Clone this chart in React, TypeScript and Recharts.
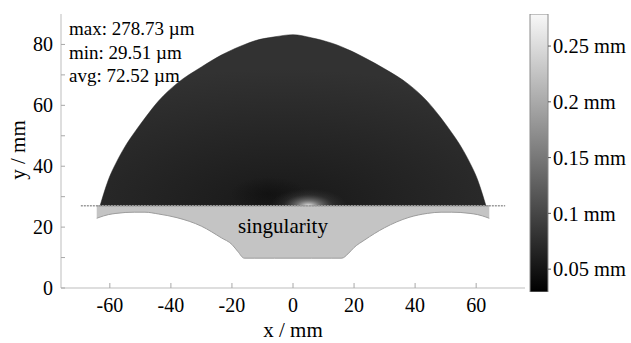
import React from 'react';
import { ComposedChart, Area, XAxis, YAxis, ReferenceLine, BarChart, Bar } from 'recharts';

// x positions (mm) sampled along the part outline
const xGrid = [-64.3, -63.2, -62, -60.5, -58, -55, -52, -48.5, -44, -38, -30, -23.5, -20, -18, -16, -12.5, -6, 0, 6, 12.5, 16, 18, 20, 23.5, 30, 38, 44, 48.5, 52, 55, 58, 60.5, 62, 63.2, 64.3];
// upper boundary of the evaluated region (mm)
const regionTop = [null, 27, 31, 35.5, 41, 46.5, 51, 55.8, 61.5, 67.2, 72.6, 76.5, 78.2, 79.1, 79.9, 81.2, 82.5, 83.2, 82.2, 80.5, 79.2, 78.3, 77.4, 75.6, 72, 66.8, 61.3, 55.8, 51, 46.5, 41, 35.5, 31, 27, null];
// lower boundary of the singularity zone (mm)
const singularityLow = [22.9, 23.3, 23.7, 24.1, 24.5, 24.8, 24.9, 24.9, 24.3, 23.1, 20.3, 16.5, 14.3, 11.9, 9.8, 9.8, 9.8, 9.8, 9.8, 9.8, 9.8, 11.2, 13.3, 15.8, 19.8, 23.2, 24.5, 24.9, 24.9, 24.8, 24.5, 24.1, 23.7, 23.3, 22.9];
const cutLevel = 27;
const cutLineX = [-69.5, 69.5];

const xTicks = [-60, -40, -20, 0, 20, 40, 60];
const yTicks = [0, 10, 20, 30, 40, 50, 60, 70, 80];
const yRightTicks = [10, 20, 30, 40, 50, 60, 70, 80];

const colorMin = 0.02951;
const colorMax = 0.27873;
const colorTicks = [0.05, 0.1, 0.15, 0.2, 0.25];
const stats = ['max: 278.73 µm', 'min: 29.51 µm', 'avg: 72.52 µm'];

const rows = xGrid.map((x, i) => ({ x, top: regionTop[i], low: singularityLow[i] }));
const cbData = [{ name: 'c', lo: colorMin, hi: colorMax }];

const FONT = 'Liberation Serif, Tinos, DejaVu Serif, serif';
const AXIS = '#bdbdbd';
const TICK = '#a8a8a8';
const M = 8;

const BottomTick = (p: any) => (
  <g>
    <line x1={p.x} x2={p.x} y1={p.y - M} y2={p.y - M - 5} stroke={TICK} />
    <text x={p.x} y={p.y} dy={16} textAnchor="middle" style={{ fontFamily: FONT }} fontSize={20} fill="#000">{p.payload.value}</text>
  </g>
);
const LeftTick = (p: any) => (
  <g>
    <line x1={p.x + M} x2={p.x + M + 4} y1={p.y} y2={p.y} stroke={TICK} />
    {p.payload.value % 20 === 0 ? (
      <text x={p.x} y={p.y} dy={7} textAnchor="end" style={{ fontFamily: FONT }} fontSize={20} fill="#000">{p.payload.value}</text>
    ) : null}
  </g>
);
const TopTick = (p: any) => <line x1={p.x} x2={p.x} y1={p.y} y2={p.y + 4} stroke={TICK} />;
const RightTick = (p: any) => <line x1={p.x} x2={p.x - 4} y1={p.y} y2={p.y} stroke={TICK} />;

export default function App() {
  return (
    <div style={{ position: 'absolute', left: 0, top: 0, width: 631, height: 343, background: '#fff', fontFamily: FONT }}>
      <ComposedChart width={631} height={343} data={rows} margin={{ top: 14, right: 106, left: 21, bottom: 25 }}>
        <defs>
          <radialGradient id="regionBase" cx="0.47" cy="1" r="0.8">
            <stop offset="0" stopColor="#181818" />
            <stop offset="0.3" stopColor="#202020" />
            <stop offset="0.65" stopColor="#292929" />
            <stop offset="1" stopColor="#323232" />
          </radialGradient>
          <radialGradient id="darkSpot" cx="0.437" cy="0.93" r="0.1">
            <stop offset="0" stopColor="#080808" stopOpacity={0.45} />
            <stop offset="1" stopColor="#080808" stopOpacity={0} />
          </radialGradient>
          <radialGradient id="glow" cx="0.54" cy="1" r="0.1">
            <stop offset="0" stopColor="#ffffff" stopOpacity={0.9} />
            <stop offset="0.3" stopColor="#c0c0c0" stopOpacity={0.5} />
            <stop offset="0.65" stopColor="#808080" stopOpacity={0.15} />
            <stop offset="1" stopColor="#606060" stopOpacity={0} />
          </radialGradient>
        </defs>
        <XAxis dataKey="x" type="number" domain={[-76, 76]} ticks={xTicks} allowDataOverflow
          stroke={AXIS} tickLine={false} tickSize={0} tickMargin={M} height={30} tick={BottomTick} />
        <XAxis xAxisId="top" orientation="top" type="number" domain={[-76, 76]} ticks={xTicks} allowDataOverflow
          stroke={AXIS} tickLine={false} tickSize={0} tickMargin={0} height={0} tick={TopTick} />
        <YAxis type="number" domain={[0, 90]} ticks={yTicks} allowDataOverflow
          stroke={AXIS} tickLine={false} tickSize={0} tickMargin={M} width={40} tick={LeftTick} />
        <YAxis yAxisId="right" orientation="right" type="number" domain={[0, 90]} ticks={yRightTicks} allowDataOverflow
          stroke={AXIS} tickLine={false} tickSize={0} tickMargin={0} width={0} tick={RightTick} />
        <Area type="monotone" dataKey={(d: any) => [d.low, cutLevel]} fill="#c4c4c4" fillOpacity={1}
          stroke="#9c9c9c" strokeWidth={1} isAnimationActive={false} dot={false} activeDot={false} />
        <Area type="monotone" dataKey="top" baseValue={cutLevel} fill="url(#regionBase)" fillOpacity={1}
          stroke="#222" strokeWidth={0.5} isAnimationActive={false} dot={false} activeDot={false} />
        <Area type="monotone" dataKey="top" baseValue={cutLevel} fill="url(#darkSpot)" fillOpacity={1}
          stroke="none" isAnimationActive={false} dot={false} activeDot={false} />
        <Area type="monotone" dataKey="top" baseValue={cutLevel} fill="url(#glow)" fillOpacity={1}
          stroke="none" isAnimationActive={false} dot={false} activeDot={false} />
        <ReferenceLine segment={[{ x: cutLineX[0], y: cutLevel }, { x: cutLineX[1], y: cutLevel }]}
          stroke="#9a9a9a" strokeWidth={1.5} strokeDasharray="2 1" ifOverflow="visible" />
      </ComposedChart>

      <div style={{ position: 'absolute', left: 525, top: 0 }}>
        <BarChart width={106} height={343} data={cbData} margin={{ top: 14, right: 0, left: 5, bottom: 51 }} barCategoryGap={0}>
          <defs>
            <linearGradient id="cbGrad" x1="0" y1="1" x2="0" y2="0">
              <stop offset="0" stopColor="#000000" />
              <stop offset="1" stopColor="#f8f8f8" />
            </linearGradient>
          </defs>
          <XAxis dataKey="name" hide />
          <YAxis orientation="right" type="number" domain={[colorMin, colorMax]} ticks={colorTicks} allowDataOverflow
            width={83} axisLine={false} tickSize={3} tickMargin={2} tickLine={{ stroke: '#555' }}
            tick={{ fontSize: 20.5, fill: '#000', style: { fontFamily: FONT } }} tickFormatter={(v: number) => `${v} mm`} />
          <Bar dataKey={(d: any) => [d.lo, d.hi]} fill="url(#cbGrad)" stroke="#8a8a8a" strokeWidth={1} isAnimationActive={false} />
        </BarChart>
      </div>

      <div style={{ position: 'absolute', left: 69, top: 17, fontSize: 19, lineHeight: '23.5px', color: '#000' }}>
        {stats.map((s) => <div key={s}>{s}</div>)}
      </div>
      <div style={{ position: 'absolute', left: 183, width: 200, top: 213, textAlign: 'center', fontSize: 21, lineHeight: '26px' }}>singularity</div>
      <div style={{ position: 'absolute', left: 193, width: 200, top: 317, textAlign: 'center', fontSize: 21, lineHeight: '26px' }}>x / mm</div>
      <div style={{ position: 'absolute', left: 18, top: 150, width: 120, marginLeft: -60, marginTop: -13, textAlign: 'center', fontSize: 21, lineHeight: '26px', transform: 'rotate(-90deg)' }}>y / mm</div>
    </div>
  );
}
